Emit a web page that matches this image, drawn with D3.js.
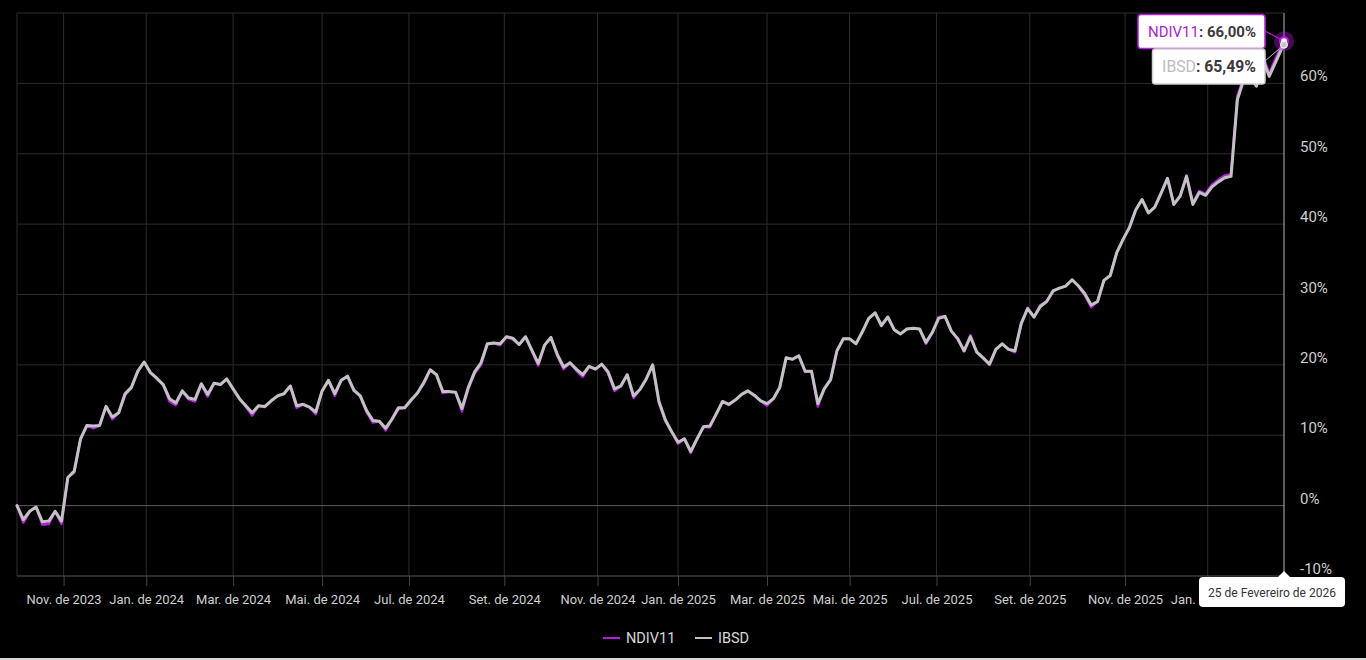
<!DOCTYPE html>
<html>
<head>
<meta charset="utf-8">
<script src="https://cdn.jsdelivr.net/npm/d3@7"></script>
<style>
  html, body { margin: 0; padding: 0; background: #000; }
  svg { display: block; }
  text { font-family: Roboto, "Noto Sans", "DejaVu Sans", sans-serif; }
</style>
</head>
<body>
<svg id="chart" width="1366" height="660"></svg>
<script>
// ---------- DATA ----------
const startDate = "2023-09-29";
const endDate = "2026-02-25";
// B3 non-trading days in the period
const holidays = [
  "2023-10-12","2023-11-02","2023-11-15","2023-12-25","2023-12-29",
  "2024-01-01","2024-02-12","2024-02-13","2024-03-29","2024-05-01","2024-05-30",
  "2024-11-15","2024-11-20","2024-12-24","2024-12-25","2024-12-31",
  "2025-01-01","2025-03-03","2025-03-04","2025-04-18","2025-04-21","2025-05-01",
  "2025-06-19","2025-11-20","2025-12-24","2025-12-25","2025-12-31",
  "2026-01-01","2026-02-16","2026-02-17"
];
// values read every 3rd trading session (plus the last session), cumulative return in %
const sampleStep = 3;
const ibsd = [
  0.0,-2.0,-0.8,-0.2,-2.3,-2.2,-0.8,-2.2,4.0,4.9,
  9.5,11.4,11.3,11.4,14.1,12.6,13.2,15.9,16.8,19.1,
  20.4,18.9,18.1,17.2,15.2,14.6,16.3,15.3,15.1,17.3,
  15.8,17.4,17.2,18.0,16.6,15.2,14.2,13.2,14.2,14.1,
  14.9,15.6,15.9,17.0,14.2,14.4,14.0,13.3,16.3,17.8,
  15.9,17.8,18.4,16.4,15.6,13.5,12.1,12.0,11.0,12.3,
  13.9,13.9,15.0,16.0,17.5,19.3,18.6,16.2,16.2,16.1,
  13.8,16.8,19.0,20.3,23.0,23.1,23.0,24.0,23.8,22.9,
  24.0,22.1,20.2,22.8,23.9,21.5,19.7,20.3,19.4,18.6,
  19.8,19.4,20.1,19.0,16.6,17.0,18.6,15.6,16.5,18.0,
  20.0,14.8,12.2,10.5,9.0,9.5,7.7,9.5,11.2,11.3,
  13.0,14.8,14.4,15.0,15.8,16.3,15.7,14.9,14.5,15.2,
  16.8,21.0,20.8,21.3,19.1,19.1,14.5,16.6,17.9,22.0,
  23.7,23.7,23.0,24.7,26.6,27.4,25.6,26.8,25.0,24.4,
  25.1,25.2,25.1,23.2,24.6,26.6,26.9,24.8,23.7,22.0,
  24.0,21.8,21.0,20.1,22.2,23.0,22.2,22.0,25.9,28.0,
  26.8,28.3,29.0,30.5,30.9,31.2,32.1,31.2,30.1,28.5,
  29.0,32.0,32.7,35.9,37.8,39.5,42.0,43.5,41.6,42.4,
  44.4,46.5,42.8,44.0,46.8,42.8,44.5,44.1,45.3,46.0,
  46.6,46.8,57.7,60.5,61.0,59.6,63.5,61.0,63.0,65.0,
  65.49
];
const ndiv11 = [
  0.0,-2.4,-0.8,-0.2,-2.7,-2.6,-0.8,-2.6,4.0,4.7,
  9.5,11.4,11.0,11.4,14.1,12.3,13.2,15.7,16.8,19.1,
  20.4,18.9,18.0,17.2,14.8,14.3,16.3,15.1,14.8,17.3,
  15.5,17.4,17.2,18.0,16.5,15.2,14.1,12.8,14.2,14.0,
  14.9,15.6,15.9,17.0,13.9,14.4,14.0,13.0,16.3,17.8,
  15.6,17.8,18.4,16.3,15.6,13.3,11.8,12.0,10.7,12.3,
  13.7,13.9,15.0,16.0,17.3,19.3,18.6,16.0,16.2,16.1,
  13.4,16.6,18.8,20.0,22.9,23.1,22.8,24.0,23.6,22.9,
  24.0,22.0,19.9,22.8,23.9,21.3,19.4,20.3,19.2,18.3,
  19.8,19.4,20.1,18.8,16.3,17.0,18.6,15.3,16.5,18.0,
  20.0,14.6,12.0,10.5,8.8,9.5,7.5,9.5,11.2,11.1,
  13.0,14.8,14.3,15.0,15.8,16.3,15.6,14.9,14.2,15.2,
  16.8,21.0,20.8,21.3,19.0,19.1,14.1,16.6,17.9,22.0,
  23.7,23.7,23.0,24.7,26.6,27.4,25.5,26.8,25.0,24.4,
  25.1,25.2,25.1,23.0,24.6,26.8,26.9,24.8,23.8,21.9,
  24.2,21.8,21.0,20.0,22.2,23.0,22.2,21.8,25.9,28.1,
  26.8,28.5,29.0,30.5,30.9,31.2,32.1,31.2,29.9,28.2,
  29.0,32.0,32.7,35.9,37.8,39.5,42.0,43.5,41.6,42.4,
  44.4,46.5,42.8,44.0,46.9,43.0,44.7,44.3,45.6,46.3,
  46.9,47.1,58.2,60.9,61.4,60.0,64.0,61.4,63.5,65.5,
  66.00
];
const seriesNames = ["NDIV11", "IBSD"];
const seriesColors = ["#b41fdc", "#c2c2c2"];
const yTicks = [-10, 0, 10, 20, 30, 40, 50, 60];
const yDomain = [-10, 70];
const monthNames = ["Jan.","Fev.","Mar.","Abr.","Mai.","Jun.","Jul.","Ago.","Set.","Out.","Nov.","Dez."];
const tickMonths = [0, 2, 4, 6, 8, 10];
const hoverDateLabel = "25 de Fevereiro de 2026";
const tooltipValues = ["66,00%", "65,49%"];

// ---------- BUILD ----------
const W = 1366, H = 660;
const M = { left: 17, right: 1284, top: 13, bottom: 576 };
const fmt = d3.timeFormat("%Y-%m-%d");
const parse = d3.timeParse("%Y-%m-%d");
const hol = new Set(holidays);
const sessions = d3.timeDay.range(parse(startDate), d3.timeDay.offset(parse(endDate), 1))
  .filter(d => d.getDay() > 0 && d.getDay() < 6 && !hol.has(fmt(d)));
const sessionKeys = sessions.map(fmt);

const idx = d3.range(0, sessions.length, sampleStep);
if (idx[idx.length - 1] !== sessions.length - 1) idx.push(sessions.length - 1);
const n = Math.min(idx.length, ibsd.length, ndiv11.length);
const rows = d3.range(n).map(i => ({ key: sessionKeys[idx[i]], ibsd: ibsd[i], ndiv: ndiv11[i] }));

const x = d3.scalePoint().domain(sessionKeys).range([M.left, M.right]);
const y = d3.scaleLinear().domain(yDomain).range([M.bottom, M.top]);

const svg = d3.select("#chart");
svg.append("rect").attr("width", W).attr("height", H).attr("fill", "#000");

// shrink a text node so that it is no wider than maxW
function fitWidth(sel, maxW) {
  sel.each(function () {
    const len = this.getComputedTextLength();
    if (len > maxW) {
      const fs = parseFloat(d3.select(this).attr("font-size") || getComputedStyle(this).fontSize);
      d3.select(this).attr("font-size", (fs * maxW / len).toFixed(2));
    }
  });
}

// tick sessions: first session of odd months
const tickKeys = [];
sessions.forEach((d, i) => {
  if (i > 0 && d.getMonth() !== sessions[i - 1].getMonth() && tickMonths.includes(d.getMonth())) tickKeys.push(sessionKeys[i]);
});

// grid
const grid = svg.append("g");
grid.selectAll("line.v").data(tickKeys).join("line")
  .attr("x1", d => x(d)).attr("x2", d => x(d))
  .attr("y1", M.top).attr("y2", M.bottom)
  .attr("stroke", "#2c2c2c").attr("stroke-width", 1);
grid.selectAll("line.h").data(d3.range(0, 71, 10)).join("line")
  .attr("x1", M.left).attr("x2", M.right)
  .attr("y1", d => y(d)).attr("y2", d => y(d))
  .attr("stroke", d => d === 0 ? "#5e5e5e" : "#2c2c2c").attr("stroke-width", 1);
grid.append("line").attr("x1", M.left).attr("x2", M.left).attr("y1", M.top).attr("y2", M.bottom)
  .attr("stroke", "#2c2c2c");

// x axis
const xAxis = d3.axisBottom(x).tickValues(tickKeys).tickSize(10).tickPadding(9)
  .tickFormat(k => { const d = parse(k); return monthNames[d.getMonth()] + " de " + d.getFullYear(); });
const gx = svg.append("g").attr("transform", `translate(0,${M.bottom})`).call(xAxis);
gx.attr("font-family", null);
gx.select(".domain").remove();
gx.selectAll(".tick line").attr("stroke", "#444");
gx.selectAll(".tick text").attr("fill", "#cfcfcf").attr("font-size", 13);
fitWidth(gx.selectAll(".tick text"), 75);
svg.append("line").attr("x1", M.left).attr("x2", M.right).attr("y1", M.bottom).attr("y2", M.bottom)
  .attr("stroke", "#555");

// y labels (right)
svg.append("g").selectAll("text").data(yTicks).join("text")
  .attr("x", 1300).attr("y", d => y(d) - 2)
  .attr("fill", "#cfcfcf").attr("font-size", 15)
  .text(d => d + "%");

// lines
const lineN = d3.line().x(d => x(d.key)).y(d => y(d.ndiv));
const lineI = d3.line().x(d => x(d.key)).y(d => y(d.ibsd));
svg.append("path").datum(rows).attr("d", lineN).attr("fill", "none")
  .attr("stroke", seriesColors[0]).attr("stroke-width", 2.6).attr("stroke-linejoin", "round").attr("stroke-linecap", "round");
svg.append("path").datum(rows).attr("d", lineI).attr("fill", "none")
  .attr("stroke", seriesColors[1]).attr("stroke-width", 3).attr("stroke-linejoin", "round").attr("stroke-linecap", "round");

// hover line
const last = rows[rows.length - 1];
const hx = x(last.key);
svg.append("line").attr("x1", hx).attr("x2", hx).attr("y1", M.top).attr("y2", 572)
  .attr("stroke", "#b5b5b5").attr("stroke-width", 1);

// legend
const lg = svg.append("g");
const legendItems = [
  { name: seriesNames[0], color: seriesColors[0], x0: 603 },
  { name: seriesNames[1], color: seriesColors[1], x0: 695 }
];
legendItems.forEach(it => {
  lg.append("line").attr("x1", it.x0).attr("x2", it.x0 + 17).attr("y1", 638).attr("y2", 638)
    .attr("stroke", it.color).attr("stroke-width", 2);
  lg.append("text").attr("x", it.x0 + 23).attr("y", 643).attr("fill", "#d8d8d8")
    .attr("font-size", 14.5).text(it.name);
});

// tooltip boxes
const ptN = [hx, y(last.ndiv)], ptI = [hx, y(last.ibsd)];
svg.append("line").attr("x1", 1265).attr("y1", 31).attr("x2", ptN[0]).attr("y2", ptN[1])
  .attr("stroke", seriesColors[0]).attr("stroke-width", 1.2);
svg.append("line").attr("x1", 1265).attr("y1", 61).attr("x2", ptI[0]).attr("y2", ptI[1])
  .attr("stroke", "#bdbdbd").attr("stroke-width", 1);

function box(x0, y0, w, h, stroke, name, nameColor, val, maxW) {
  const g = svg.append("g");
  g.append("rect").attr("x", x0).attr("y", y0).attr("width", w).attr("height", h)
    .attr("rx", 3).attr("fill", "#fff").attr("stroke", stroke).attr("stroke-width", 1.5);
  const t = g.append("text").attr("x", x0 + w - 9).attr("y", y0 + h / 2 + 5.5)
    .attr("text-anchor", "end").attr("font-size", 16);
  t.append("tspan").attr("fill", nameColor).text(name);
  t.append("tspan").attr("fill", "#3a3a3a").attr("font-weight", 700).text(": " + val);
  fitWidth(t, maxW);
}
box(1138, 14.5, 127, 34, seriesColors[0], seriesNames[0], "#ad1fd6", tooltipValues[0], 108);
box(1152.5, 49, 112.5, 35, "#d0d0d0", seriesNames[1], "#bdbdbd", tooltipValues[1], 94);

// marker
svg.append("circle").attr("cx", ptN[0]).attr("cy", ptN[1]).attr("r", 10)
  .attr("fill", seriesColors[0]).attr("opacity", 0.38);
svg.append("circle").attr("cx", ptN[0]).attr("cy", ptN[1]).attr("r", 4)
  .attr("fill", "#fff").attr("stroke", seriesColors[0]).attr("stroke-width", 2);
svg.append("circle").attr("cx", ptI[0]).attr("cy", ptI[1]).attr("r", 3.5)
  .attr("fill", "#c8c8c8").attr("stroke", "#fff").attr("stroke-width", 1);

// date tooltip (covers the end of the last month label, as in the source)
const dt = svg.append("g");
dt.append("path").attr("d", `M${hx - 7},578 L${hx},571 L${hx + 7},578 Z`).attr("fill", "#fff");
dt.append("rect").attr("x", 1199).attr("y", 577).attr("width", 146).attr("height", 30)
  .attr("rx", 4).attr("fill", "#fff");
const dtt = dt.append("text").attr("x", 1272).attr("y", 597).attr("text-anchor", "middle")
  .attr("font-size", 13.5).attr("fill", "#333").text(hoverDateLabel);
fitWidth(dtt, 128);

// bottom page edge
svg.append("rect").attr("x", 0).attr("y", 658).attr("width", W).attr("height", 2).attr("fill", "#d9d9d9");
</script>
</body>
</html>
